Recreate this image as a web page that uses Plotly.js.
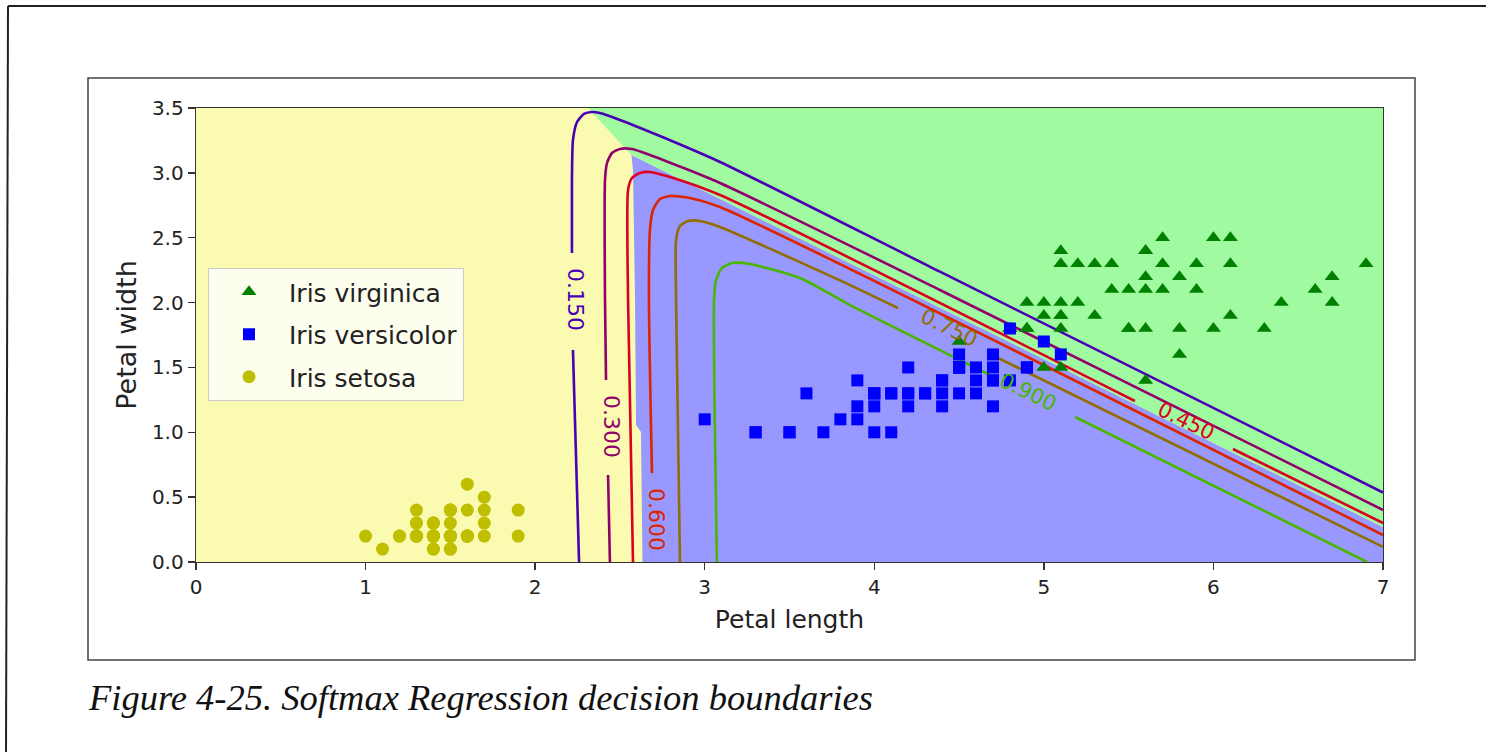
<!DOCTYPE html>
<html><head><meta charset="utf-8">
<script src="https://cdn.plot.ly/plotly-3.0.1.min.js"></script>
<style>html,body{margin:0;padding:0;background:#fff;}#chart{width:1486px;height:752px;}</style>
</head><body><div id="chart"></div>
<script>
// ---- Iris data (petal length, petal width) ----
const virginicaLength = [6.0,5.1,5.9,5.6,5.8,6.6,4.5,6.3,5.8,6.1,5.1,5.3,5.5,5.0,5.1,5.3,5.5,6.7,6.9,5.0,5.7,4.9,6.7,4.9,5.7,6.0,4.8,4.9,5.6,5.8,6.1,6.4,5.6,5.1,5.6,6.1,5.6,5.5,4.8,5.4,5.6,5.1,5.1,5.9,5.7,5.2,5.0,5.2,5.4,5.1];
const virginicaWidth  = [2.5,1.9,2.1,1.8,2.2,2.1,1.7,1.8,1.8,2.5,2.0,1.9,2.1,2.0,2.4,2.3,1.8,2.2,2.3,1.5,2.3,2.0,2.0,1.8,2.1,1.8,1.8,1.8,2.1,1.6,1.9,2.0,2.2,1.5,1.4,2.3,2.4,1.8,1.8,2.1,2.4,2.3,1.9,2.3,2.5,2.3,1.9,2.0,2.3,1.8];
const versicolorLength = [4.7,4.5,4.9,4.0,4.6,4.5,4.7,3.3,4.6,3.9,3.5,4.2,4.0,4.7,3.6,4.4,4.5,4.1,4.5,3.9,4.8,4.0,4.9,4.7,4.3,4.4,4.8,5.0,4.5,3.5,3.8,3.7,3.9,5.1,4.5,4.5,4.7,4.4,4.1,4.0,4.4,4.6,4.0,3.3,4.2,4.2,4.2,4.3,3.0,4.1];
const versicolorWidth  = [1.4,1.5,1.5,1.3,1.5,1.3,1.6,1.0,1.3,1.4,1.0,1.5,1.0,1.4,1.3,1.4,1.5,1.0,1.5,1.1,1.8,1.3,1.5,1.2,1.3,1.4,1.4,1.7,1.5,1.0,1.1,1.0,1.2,1.6,1.5,1.6,1.5,1.3,1.3,1.3,1.2,1.4,1.2,1.0,1.3,1.2,1.3,1.3,1.1,1.3];
const setosaLength = [1.4,1.4,1.3,1.5,1.4,1.7,1.4,1.5,1.4,1.5,1.5,1.6,1.4,1.1,1.2,1.5,1.3,1.4,1.7,1.5,1.7,1.5,1.0,1.7,1.9,1.6,1.6,1.5,1.4,1.6,1.6,1.5,1.5,1.4,1.5,1.2,1.3,1.4,1.3,1.5,1.3,1.3,1.3,1.6,1.9,1.4,1.6,1.4,1.5,1.4];
const setosaWidth  = [0.2,0.2,0.2,0.2,0.2,0.4,0.3,0.2,0.2,0.1,0.2,0.2,0.1,0.1,0.2,0.4,0.4,0.3,0.3,0.3,0.2,0.4,0.2,0.5,0.2,0.2,0.4,0.2,0.2,0.2,0.2,0.4,0.1,0.2,0.2,0.2,0.2,0.1,0.2,0.2,0.3,0.3,0.2,0.6,0.4,0.3,0.2,0.2,0.2,0.2];

// ---- decision regions (boundary vertices) ----
const virginicaRegionX = [2.312, 2.568, 7.0, 7.0];
const virginicaRegionY = [3.5, 3.137, 0.270, 3.5];
const versicolorRegionX = [2.568, 2.577, 2.589, 2.595, 2.624, 2.633, 7.0, 7.0];
const versicolorRegionY = [3.137, 3.022, 2.020, 1.056, 1.002, 0.0, 0.0, 0.270];

// ---- P(versicolor) contour lines (null = gap for inline label) ----
const levels = ["0.150", "0.300", "0.450", "0.600", "0.750", "0.900"];
const c150X = [2.259, 2.223, null, 2.217, 2.217, 2.223, 2.247, 2.288, 2.335, 2.382, 2.500, 2.736, 3.090, 4.387, 7.0];
const c150Y = [0.0, 1.634, null, 2.382, 2.945, 3.253, 3.392, 3.454, 3.469, 3.461, 3.408, 3.284, 3.084, 2.238, 0.536];
const c300X = [2.441, 2.430, null, 2.418, 2.412, 2.412, 2.424, 2.453, 2.500, 2.571, 2.677, 3.090, 4.387, 7.0];
const c300Y = [0.0, 0.671, null, 1.403, 2.020, 2.945, 3.076, 3.153, 3.184, 3.184, 3.138, 2.922, 2.097, 0.401];
const c450X = [2.577, 2.548, 2.548, 2.571, 2.618, 2.677, 2.795, 3.090, 5.537, null, 6.115, 7.0];
const c450Y = [0.0, 2.020, 2.868, 2.960, 2.999, 3.007, 2.968, 2.829, 1.241, null, 0.871, 0.301];
const c600X = [2.689, 2.671, 2.677, 2.695, 2.736, 2.795, 2.913, 3.090, 7.0];
const c600Y = [0.686, 2.020, 2.559, 2.714, 2.798, 2.822, 2.806, 2.737, 0.208];
const c750X = [2.854, 2.831, 2.831, 2.854, 2.901, 2.972, 3.090, 3.857, 4.140, null, 4.730, 7.0];
const c750Y = [0.0, 2.020, 2.482, 2.590, 2.629, 2.629, 2.583, 2.135, 1.958, null, 1.573, 0.116];
const c900X = [3.072, 3.055, 3.067, 3.102, 3.161, 3.267, 3.562, 3.857, 4.682, null, 5.184, 6.906];
const c900Y = [0.0, 2.020, 2.174, 2.267, 2.305, 2.297, 2.189, 1.981, 1.442, null, 1.118, 0.0];

// inline contour labels
const labelText = ["0.150", "0.300", "0.600", "0.450", "0.750", "0.900"];
const labelX = [2.235, 2.447, 2.719, 5.838, 4.441, 4.906];
const labelY = [2.020, 1.041, 0.331, 1.087, 1.804, 1.311];

const FONT = 'DejaVu Sans, sans-serif';
const levelColors = ['#4900b6', '#92006d', '#db0024', '#db2400', '#926d00', '#49b600'];
const labelColors = ['#4900b6', '#92006d', '#db2400', '#db0024', '#926d00', '#49b600'];
const labelAngles = [90, 90, 90, 26, 26, 26];

const contours = [[c150X,c150Y],[c300X,c300Y],[c450X,c450Y],[c600X,c600Y],[c750X,c750Y],[c900X,c900Y]];

const traces = [];
traces.push({x: versicolorRegionX, y: versicolorRegionY, type:'scatter', mode:'lines', fill:'toself',
  fillcolor:'#9898ff', line:{width:0, color:'#9898ff'}, showlegend:false, hoverinfo:'skip', legendgroup:'z'});
traces.push({x: virginicaRegionX, y: virginicaRegionY, type:'scatter', mode:'lines', fill:'toself',
  fillcolor:'#a0faa0', line:{width:0, color:'#a0faa0'}, showlegend:false, hoverinfo:'skip', legendgroup:'z'});
contours.forEach((c, i) => {
  traces.push({x: c[0], y: c[1], type:'scatter', mode:'lines', connectgaps:false, legendgroup:'z',
    line:{color: levelColors[i], width:2.6, shape:'spline', smoothing:0.6}, showlegend:false, hoverinfo:'skip', name: levels[i]});
});
traces.push({x: virginicaLength, y: virginicaWidth, type:'scatter', mode:'markers', name:'Iris virginica',
  legendgroup:'a', marker:{symbol:'triangle-up', color:'#008000', size:13}});
traces.push({x: versicolorLength, y: versicolorWidth, type:'scatter', mode:'markers', name:'Iris versicolor',
  legendgroup:'b', marker:{symbol:'square', color:'#0000ff', size:12}});
traces.push({x: setosaLength, y: setosaWidth, type:'scatter', mode:'markers', name:'Iris setosa',
  legendgroup:'c', marker:{symbol:'circle', color:'#bfbf00', size:13}});

const annotations = labelText.map((t, i) => ({
  x: labelX[i], y: labelY[i], xref:'x', yref:'y', text: t, showarrow:false,
  textangle: labelAngles[i], font:{family: FONT, size: (labelAngles[i] === 90 ? 22 : 21), color: labelColors[i]},
  xanchor:'center', yanchor:'middle'
}));
// plot area in px: left 196, right 1383, top 108, bottom 562
const PW = 1187, PH = 454;
const px = v => (v - 196) / PW;
const py = v => (562 - v) / PH;
annotations.push({xref:'paper', yref:'paper', x: px(86), y: py(697), xanchor:'left', yanchor:'middle',
  text:'Figure 4-25. Softmax Regression decision boundaries', showarrow:false,
  font:{family:'Liberation Serif, serif', size:36.5, color:'#111', style:'italic'}});

const shapes = [
  {type:'rect', xref:'paper', yref:'paper', x0: px(88), x1: px(1415), y0: py(660), y1: py(78),
   line:{color:'#444', width:1.5}, fillcolor:'rgba(0,0,0,0)', layer:'below'},
  {type:'line', xref:'paper', yref:'paper', x0: px(8), x1: px(1490), y0: py(6), y1: py(6), line:{color:'#222', width:2}},
  {type:'line', xref:'paper', yref:'paper', x0: px(8), x1: px(6), y0: py(6), y1: py(760), line:{color:'#222', width:2}}
];

const axisCommon = {showgrid:false, zeroline:false, showline:true, mirror:true, linecolor:'#333', linewidth:1.3,
  ticks:'outside', ticklen:7, tickwidth:1.3, tickcolor:'#333', tickfont:{family:FONT, size:20, color:'#222'}};

const layout = {
  width:1486, height:752,
  margin:{l:196, r:103, t:108, b:190, pad:0},
  paper_bgcolor:'#ffffff', plot_bgcolor:'#fafab0',
  font:{family:FONT, color:'#222'},
  xaxis: Object.assign({}, axisCommon, {range:[0,7], tickvals:[0,1,2,3,4,5,6,7],
    title:{text:'Petal length', font:{family:FONT, size:25, color:'#222'}, standoff:12}}),
  yaxis: Object.assign({}, axisCommon, {range:[0,3.5], tickvals:[0,0.5,1,1.5,2,2.5,3,3.5], tickformat:'.1f',
    title:{text:'Petal width', font:{family:FONT, size:27, color:'#222'}, standoff:7}}),
  showlegend:true,
  legend:{x: px(208), y: py(268), xanchor:'left', yanchor:'top', bgcolor:'rgba(255,255,255,0.8)',
    bordercolor:'#cccccc', borderwidth:1, font:{family:FONT, size:25, color:'#222'},
    tracegroupgap:7, itemwidth:70, traceorder:'grouped'},
  annotations: annotations,
  shapes: shapes
};

Plotly.newPlot('chart', traces, layout, {displayModeBar:false, staticPlot:true});
</script>
</body></html>
